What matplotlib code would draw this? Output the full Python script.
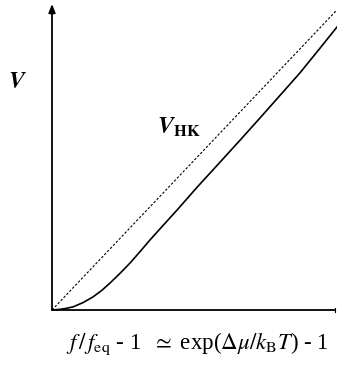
import numpy as np
import matplotlib.pyplot as plt

plt.rcParams['font.family'] = ['Liberation Serif', 'DejaVu Serif']
plt.rcParams['mathtext.fontset'] = 'stix'

# velocity curve V(f/feq - 1) and its Hertz-Knudsen limit
x_v = [0.0, 0.025, 0.046, 0.074, 0.109, 0.144, 0.175, 0.204, 0.239, 0.274,
       0.309, 0.344, 0.390, 0.439, 0.512, 0.589, 0.660, 0.730, 0.800, 0.870,
       0.935, 1.0]
y_v = [0.0, 0.002, 0.005, 0.011, 0.026, 0.046, 0.069, 0.095, 0.129, 0.165,
       0.205, 0.246, 0.297, 0.351, 0.434, 0.518, 0.596, 0.674, 0.753, 0.832,
       0.912, 0.993]
x_hk = [0.0, 1.0]
y_hk = [0.0, 1.053]

W, H = 337, 371
fig = plt.figure(figsize=(W / 100, H / 100), dpi=100)
# axes box in pixels: origin at (52, 310), 285 px per unit
x0, y0, s = 52, 310, 285
ymax = (y0 - 4) / s
ax = fig.add_axes([x0 / W, (H - y0) / H, s / W, (y0 - 4) / H])
ax.set_xlim(0, 1)
ax.set_ylim(0, ymax)
ax.axis('off')

ax.plot(x_hk, y_hk, color='k', lw=0.8, ls=(0, (2.2, 1.6)), clip_on=False)
ax.plot(x_v, y_v, color='k', lw=1.2, clip_on=False)

# axes with arrow on V
ax.annotate('', xy=(0, ymax), xytext=(0, 0),
            arrowprops=dict(arrowstyle='-|>,head_length=0.5,head_width=0.2',
                            color='k', lw=1.3, shrinkA=0, shrinkB=0))
ax.plot([0, 0.993], [0, 0], color='k', lw=1.3, clip_on=False, solid_capstyle='butt')
ax.plot([0.993, 0.993], [-0.008, 0.008], color='k', lw=0.8, clip_on=False)

fig.text(17 / W, 1 - 82 / H, r'$\boldsymbol{V}$', fontsize=17, ha='center', va='center')
fig.text(179 / W, 1 - 127 / H, r'$\boldsymbol{V}_{\mathbf{HK}}$', fontsize=17,
         ha='center', va='center')
fig.text(197 / W, 1 - 344 / H,
         r'$f\,/\,f_{\mathrm{eq}}$ - 1  $\simeq$ exp($\Delta\mu/k_{\mathrm{B}}T$) - 1',
         fontsize=16.5, ha='center', va='center')

fig.savefig('out.png', dpi=100)
